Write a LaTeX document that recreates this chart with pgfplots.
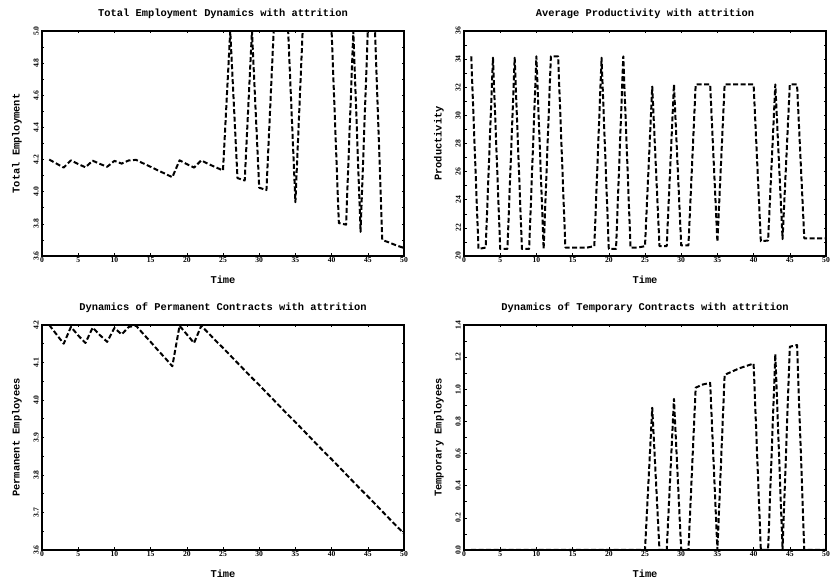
\documentclass[border=0pt]{standalone}
\usepackage{fontspec}
\usepackage{pgfplots}
\usepackage{pgfplotstable}
\pgfplotsset{compat=1.18}
\newfontfamily\cour{Liberation Mono}
\newfontfamily\tms{Liberation Serif}
\newcommand\tickfont{\tms\bfseries\fontsize{7.6}{8}\selectfont}
\newcommand\labfont{\cour\bfseries\fontsize{10.4}{12}\selectfont}

% t, total employment, productivity, permanent, temporary
\pgfplotstableread{
t  total  prod   perm   temp
1  4.200  34.2   4.200  0
2  4.175  20.5   4.175  0
3  4.150  20.6   4.150  0
4  4.195  34.1   4.195  0
5  4.172  20.5   4.172  0
6  4.152  20.5   4.152  0
7  4.193  34.1   4.193  0
8  4.173  20.5   4.173  0
9  4.155  20.5   4.155  0
10 4.192  34.2   4.192  0
11 4.175  20.5   4.175  0
12 4.195  34.2   4.195  0
13 4.198  34.2   4.198  0
14 4.176  20.6   4.176  0
15 4.155  20.6   4.155  0
16 4.133  20.6   4.133  0
17 4.112  20.6   4.112  0
18 4.090  20.7   4.090  0
19 4.195  34.1   4.198  0
20 4.172  20.5   4.175  0
21 4.150  20.5   4.152  0
22 4.195  34.2   4.198  0
23 4.172  20.6   4.178  0
24 4.152  20.6   4.158  0
25 4.132  20.7   4.139  0
26 5.000  32.05  4.119  0.885
27 4.085  20.7   4.099  0
28 4.070  20.7   4.079  0
29 5.000  32.2   4.059  0.94
30 4.025  20.75  4.040  0
31 4.010  20.75  4.020  0
32 5.000  32.2   4.000  1.01
33 5.000  32.2   3.980  1.03
34 5.000  32.2   3.960  1.04
35 3.935  21.0   3.941  0
36 5.000  32.2   3.921  1.09
37 5.000  32.2   3.901  1.11
38 5.000  32.2   3.881  1.13
39 5.000  32.2   3.861  1.145
40 5.000  32.2   3.842  1.16
41 3.805  21.05  3.822  0
42 3.795  21.1   3.802  0
43 5.000  32.2   3.782  1.22
44 3.750  21.2   3.762  0
45 5.000  32.2   3.743  1.265
46 5.000  32.2   3.723  1.275
47 3.700  21.25  3.703  0
48 3.683  21.25  3.683  0
49 3.665  21.25  3.663  0
50 3.650  21.25  3.644  0
}\simdata

\pgfplotsset{
  simline/.style={black, no markers, line width=2pt,
                  dash pattern=on 5pt off 2.5pt, line join=round},
  simpanel/.style={
    scale only axis,
    width=362pt, height=225pt,
    xmin=0, xmax=50,
    xtick={0,5,...,50},
    minor y tick num=1,
    axis line style={line width=1.2pt},
    tick style={black, line width=0.6pt},
    major tick length=2.5pt, minor tick length=2.5pt,
    /pgf/number format/assume math mode=true,
    xticklabel={\tickfont\pgfmathprintnumber{\tick}},
    yticklabel={\tickfont\pgfmathprintnumber[fixed,fixed zerofill,precision=1]{\tick}},
    xticklabel style={inner sep=1.5pt},
    yticklabel style={rotate=90, anchor=south, inner sep=3pt},
    every axis title/.style={font=\labfont,
                 at={(axis description cs:0.5,1.076)}, anchor=center},
    every axis x label/.style={font=\labfont,
                 at={(axis description cs:0.5,-0.107)}, anchor=center},
    every axis y label/.style={font=\labfont,
                 at={(axis description cs:-0.069,0.5)}, rotate=90, anchor=center},
    xlabel={Time},
  },
}

\begin{document}
\begin{tikzpicture}
\useasboundingbox (0,0) rectangle (831pt,584pt);

\begin{axis}[simpanel, at={(42pt,328pt)}, anchor=south west,
  title={Total Employment Dynamics with attrition},
  ylabel={Total Employment},
  ymin=3.6, ymax=5.0, ytick={3.6,3.8,...,5.01}]
  \addplot[simline] table[x=t, y=total] {\simdata};
\end{axis}

\begin{axis}[simpanel, at={(464pt,328pt)}, anchor=south west,
  title={Average Productivity with attrition},
  ylabel={Productivity},
  ymin=20, ymax=36, ytick={20,22,...,36},
  yticklabel={\tickfont\pgfmathprintnumber[fixed,precision=0]{\tick}}]
  \addplot[simline] table[x=t, y=prod] {\simdata};
\end{axis}

\begin{axis}[simpanel, at={(42pt,34pt)}, anchor=south west,
  title={Dynamics of Permanent Contracts with attrition},
  ylabel={Permanent Employees},
  ymin=3.6, ymax=4.2, ytick={3.6,3.7,...,4.21}]
  \addplot[simline] table[x=t, y=perm] {\simdata};
\end{axis}

\begin{axis}[simpanel, at={(464pt,34pt)}, anchor=south west,
  title={Dynamics of Temporary Contracts with attrition},
  ylabel={Temporary Employees},
  ymin=0, ymax=1.4, ytick={0,0.2,...,1.41}]
  \addplot[simline] table[x=t, y=temp] {\simdata};
\end{axis}
\end{tikzpicture}
\end{document}
